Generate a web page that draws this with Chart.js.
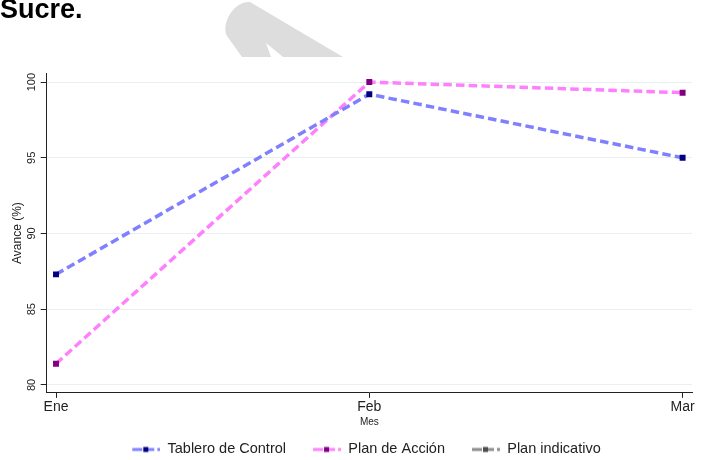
<!DOCTYPE html>
<html><head><meta charset="utf-8">
<script src="https://cdn.jsdelivr.net/npm/chart.js@4.4.0/dist/chart.umd.min.js"></script>
<style>html,body{margin:0;padding:0;background:#fff}#wrap{position:relative;width:706px;height:460px}</style>
</head><body><div id="wrap"><canvas id="c" width="706" height="460"></canvas></div>
<script>
const categories = ['Ene', 'Feb', 'Mar'];
const tableroControl = [87.3, 99.2, 95.0];
const planAccion = [81.4, 100.0, 99.3];
const planIndicativo = [null, null, null];
const yTickValues = [80, 85, 90, 95, 100];
const seriesNames = ['Tablero de Control', 'Plan de Acción', 'Plan indicativo'];
const lineColors = ['#8080ff', '#ff80ff', '#8c8c8c'];
const markerColors = ['#000080', '#800080', '#4d4d4d'];

const FONT = "'Liberation Sans', Arial, Helvetica, sans-serif";
Chart.defaults.font.family = FONT;
Chart.defaults.color = '#222';

function legendSymbol(lineColor, markerColor) {
  const cv = document.createElement('canvas');
  cv.width = 55; cv.height = 8;
  const g = cv.getContext('2d');
  const o = 27;
  g.fillStyle = lineColor;
  g.fillRect(o + 0, 2.5, 10, 3);
  g.fillRect(o + 16, 2.5, 6, 3);
  g.fillRect(o + 25, 2.5, 3, 3);
  g.fillStyle = markerColor;
  g.fillRect(o + 11, 1.5, 5, 5);
  return cv;
}
const symbols = lineColors.map((c, i) => legendSymbol(c, markerColors[i]));

function toPoints(arr) { return arr.map((v, i) => ({ x: i, y: v })); }
const seriesValues = [tableroControl, planAccion, planIndicativo];

const watermark = {
  id: 'watermark',
  beforeDraw(chart) {
    const g = chart.ctx;
    g.save();
    g.fillStyle = '#dddddd';
    g.beginPath();
    g.moveTo(242, 57);
    g.lineTo(227, 36);
    g.bezierCurveTo(221, 26, 232, 1, 250, 2);
    g.lineTo(343, 57);
    g.lineTo(283, 57);
    g.lineTo(266, 43);
    g.lineTo(271, 57);
    g.closePath();
    g.fill();
    g.restore();
  }
};

new Chart(document.getElementById('c'), {
  type: 'line',
  data: {
    datasets: seriesValues.map((vals, i) => ({
      label: seriesNames[i],
      data: toPoints(vals),
      borderColor: lineColors[i],
      backgroundColor: markerColors[i],
      borderWidth: 3.5,
      borderDash: [8.5, 4.2],
      pointStyle: 'rect',
      pointRadius: 4.2,
      pointHoverRadius: 4.2,
      pointBackgroundColor: markerColors[i],
      pointBorderColor: markerColors[i],
      pointBorderWidth: 0,
      tension: 0,
      fill: false
    }))
  },
  options: {
    responsive: false,
    animation: false,
    devicePixelRatio: 1,
    layout: { padding: { left: 0, right: 0, top: 0, bottom: -6.7 } },
    scales: {
      x: {
        type: 'linear',
        min: -0.0297, max: 2.030,
        afterBuildTicks: s => { s.ticks = categories.map((c, i) => ({ value: i })); },
        ticks: { callback: v => categories[v], font: { size: 14 }, color: '#222', maxRotation: 0, autoSkip: false, padding: 1 },
        grid: { drawOnChartArea: false, color: '#222', tickColor: '#222', tickLength: 5 },
        border: { color: '#222', width: 1 },
        title: { display: true, text: 'Mes', font: { size: 10 }, color: '#222', padding: { top: 0, bottom: 14 } },
        afterFit: s => { s.height = 49.3; }
      },
      y: {
        min: 79.47, max: 100.58,
        afterBuildTicks: s => { s.ticks = yTickValues.map(v => ({ value: v })); },
        ticks: { minRotation: 90, maxRotation: 90, crossAlign: 'center', font: { size: 11 }, color: '#222', padding: 0 },
        grid: { color: '#e8f0f1', tickColor: '#222', tickLength: 6, lineWidth: 1 },
        border: { color: '#222', width: 1 },
        title: { display: true, text: 'Avance (%)', font: { size: 12 }, color: '#222', padding: { top: 10.8, bottom: 0 } },
        afterFit: s => { s.width = 46.7; }
      },
      yRight: {
        position: 'right',
        min: 79.47, max: 100.58,
        grid: { display: false },
        ticks: { display: false },
        border: { display: false },
        afterFit: s => { s.width = 14; }
      }
    },
    plugins: {
      title: {
        display: true, text: 'Sucre.', align: 'start', color: '#000',
        font: { size: 27, weight: 'bold', lineHeight: 0.8 },
        padding: { top: 0, bottom: 51.7 }
      },
      legend: {
        position: 'bottom',
        labels: {
          usePointStyle: true,
          pointStyleWidth: 55,
          padding: 0,
          font: { size: 14.5 },
          color: '#222',
          generateLabels: chart => {
            const items = Chart.defaults.plugins.legend.labels.generateLabels(chart);
            items.forEach((it, i) => { it.pointStyle = symbols[i]; });
            return items;
          }
        }
      },
      tooltip: { enabled: false }
    }
  },
  plugins: [watermark]
});
</script>
</body></html>
